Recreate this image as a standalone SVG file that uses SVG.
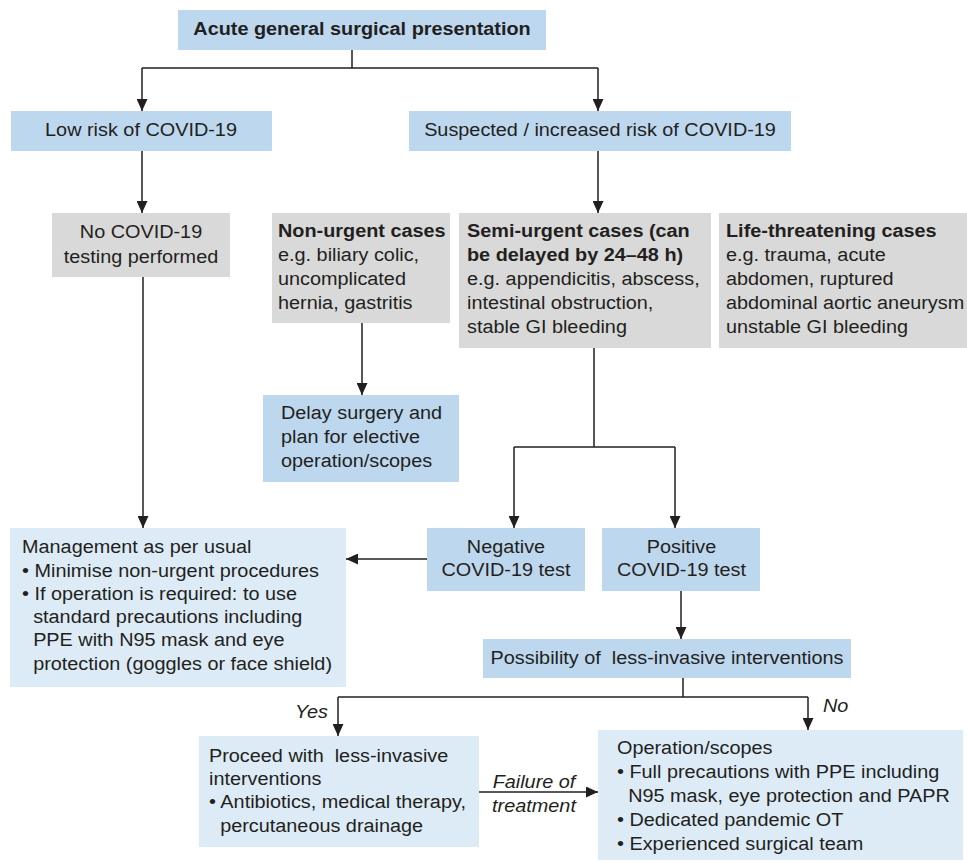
<svg xmlns="http://www.w3.org/2000/svg" width="967" height="861" viewBox="0 0 967 861">
<defs>
<style>
.t{font-family:"Liberation Sans",Arial,Helvetica,sans-serif;font-size:17.8px;fill:#231f20}
.b{font-weight:bold}
.i{font-style:italic}
.m{text-anchor:middle}
.e{text-anchor:end}
.blue{fill:#bdd7ee}
.gray{fill:#d9d9d9}
.light{fill:#ddebf7}
.ln{fill:none;stroke:#231f20;stroke-width:1.5}
</style>
<marker id="ah" markerUnits="userSpaceOnUse" markerWidth="12" markerHeight="11" refX="12" refY="5.5" orient="auto" viewBox="0 0 12 11">
<path d="M0,0 L12,5.5 L0,11 z" fill="#231f20"/>
</marker>
</defs>
<rect width="967" height="861" fill="#ffffff"/>

<g id="connectors">
<path class="ln" d="M352,50 V68 M142,68 H598"/>
<path class="ln" d="M142,68 V111" marker-end="url(#ah)"/>
<path class="ln" d="M598,68 V111" marker-end="url(#ah)"/>
<path class="ln" d="M142,151 V213" marker-end="url(#ah)"/>
<path class="ln" d="M598,151 V213" marker-end="url(#ah)"/>
<path class="ln" d="M362,323 V395" marker-end="url(#ah)"/>
<path class="ln" d="M594,348 V447 M514,447 H675"/>
<path class="ln" d="M514,447 V528" marker-end="url(#ah)"/>
<path class="ln" d="M675,447 V528" marker-end="url(#ah)"/>
<path class="ln" d="M143,277 V528" marker-end="url(#ah)"/>
<path class="ln" d="M427,559 H346" marker-end="url(#ah)"/>
<path class="ln" d="M681,591 V639" marker-end="url(#ah)"/>
<path class="ln" d="M683,678 V697 M338,697 H808"/>
<path class="ln" d="M338,697 V736" marker-end="url(#ah)"/>
<path class="ln" d="M808,697 V730" marker-end="url(#ah)"/>
<path class="ln" d="M479,792 H598" marker-end="url(#ah)"/>
<text class="t i e" transform="translate(328 0) scale(1.115 1)"><tspan x="0" y="718">Yes</tspan></text>
<text class="t i" transform="translate(823 0) scale(1.115 1)"><tspan x="0" y="712">No</tspan></text>
<text class="t i m" transform="translate(534 0) scale(1.115 1)"><tspan x="0" y="788">Failure of</tspan><tspan x="0" y="812">treatment</tspan></text>
</g>

<g id="n-acute">
<rect class="blue" x="178" y="10" width="368" height="40"/>
<text class="t b m" transform="translate(362 0) scale(1.115 1)"><tspan x="0" y="35">Acute general surgical presentation</tspan></text>
</g>

<g id="n-low">
<rect class="blue" x="11" y="111" width="261" height="40"/>
<text class="t m" transform="translate(141 0) scale(1.115 1)"><tspan x="0" y="136">Low risk of COVID-19</tspan></text>
</g>

<g id="n-suspected">
<rect class="blue" x="409" y="111" width="382" height="40"/>
<text class="t m" transform="translate(600 0) scale(1.115 1)"><tspan x="0" y="136">Suspected / increased risk of COVID-19</tspan></text>
</g>

<g id="n-notesting">
<rect class="gray" x="52" y="213" width="178" height="64"/>
<text class="t m" transform="translate(141 0) scale(1.115 1)"><tspan x="0" y="238">No COVID-19</tspan><tspan x="0" y="263">testing performed</tspan></text>
</g>

<g id="n-nonurgent">
<rect class="gray" x="272" y="213" width="178" height="110"/>
<text class="t" transform="translate(278 0) scale(1.115 1)"><tspan class="b" x="0" y="237">Non-urgent cases</tspan><tspan x="0" y="261">e.g. biliary colic,</tspan><tspan x="0" y="285">uncomplicated</tspan><tspan x="0" y="309">hernia, gastritis</tspan></text>
</g>

<g id="n-semiurgent">
<rect class="gray" x="459" y="213" width="252" height="135"/>
<text class="t" transform="translate(467 0) scale(1.115 1)"><tspan class="b" x="0" y="237">Semi-urgent cases (can</tspan><tspan class="b" x="0" y="261">be delayed by 24–48 h)</tspan><tspan x="0" y="285">e.g. appendicitis, abscess,</tspan><tspan x="0" y="309">intestinal obstruction,</tspan><tspan x="0" y="333">stable GI bleeding</tspan></text>
</g>

<g id="n-lifethreat">
<rect class="gray" x="719" y="213" width="248" height="135"/>
<text class="t" transform="translate(726 0) scale(1.115 1)"><tspan class="b" x="0" y="237">Life-threatening cases</tspan><tspan x="0" y="261">e.g. trauma, acute</tspan><tspan x="0" y="285">abdomen, ruptured</tspan><tspan x="0" y="309">abdominal aortic aneurysm</tspan><tspan x="0" y="333">unstable GI bleeding</tspan></text>
</g>

<g id="n-delay">
<rect class="blue" x="263" y="395" width="196" height="87"/>
<text class="t" transform="translate(281 0) scale(1.115 1)"><tspan x="0" y="419">Delay surgery and</tspan><tspan x="0" y="443">plan for elective</tspan><tspan x="0" y="467">operation/scopes</tspan></text>
</g>

<g id="n-negative">
<rect class="blue" x="427" y="528" width="158" height="63"/>
<text class="t m" transform="translate(506 0) scale(1.115 1)"><tspan x="0" y="553">Negative</tspan><tspan x="0" y="576">COVID-19 test</tspan></text>
</g>

<g id="n-positive">
<rect class="blue" x="602" y="528" width="158" height="63"/>
<text class="t m" transform="translate(681.5 0) scale(1.115 1)"><tspan x="0" y="553">Positive</tspan><tspan x="0" y="576">COVID-19 test</tspan></text>
</g>

<g id="n-management">
<rect class="light" x="10" y="528" width="336" height="159"/>
<text class="t" transform="translate(22 0) scale(1.115 1)"><tspan x="0" y="553">Management as per usual</tspan><tspan x="0" y="577">• Minimise non-urgent procedures</tspan><tspan x="0" y="600">• If operation is required: to use</tspan><tspan x="10" y="623">standard precautions including</tspan><tspan x="10" y="646">PPE with N95 mask and eye</tspan><tspan x="10" y="670">protection (goggles or face shield)</tspan></text>
</g>

<g id="n-possibility">
<rect class="blue" x="483" y="639" width="368" height="39"/>
<text class="t m" xml:space="preserve" transform="translate(667 0) scale(1.115 1)"><tspan x="0" y="664">Possibility of  less-invasive interventions</tspan></text>
</g>

<g id="n-proceed">
<rect class="light" x="199" y="736" width="280" height="111"/>
<text class="t" xml:space="preserve" transform="translate(209 0) scale(1.115 1)"><tspan x="0" y="762">Proceed with  less-invasive</tspan><tspan x="0" y="785">interventions</tspan><tspan x="0" y="808">• Antibiotics, medical therapy,</tspan><tspan x="10" y="832">percutaneous drainage</tspan></text>
</g>

<g id="n-operation">
<rect class="light" x="598" y="730" width="365" height="130"/>
<text class="t" transform="translate(617 0) scale(1.115 1)"><tspan x="0" y="754">Operation/scopes</tspan><tspan x="0" y="778">• Full precautions with PPE including</tspan><tspan x="10" y="802">N95 mask, eye protection and PAPR</tspan><tspan x="0" y="826">• Dedicated pandemic OT</tspan><tspan x="0" y="850">• Experienced surgical team</tspan></text>
</g>
</svg>
